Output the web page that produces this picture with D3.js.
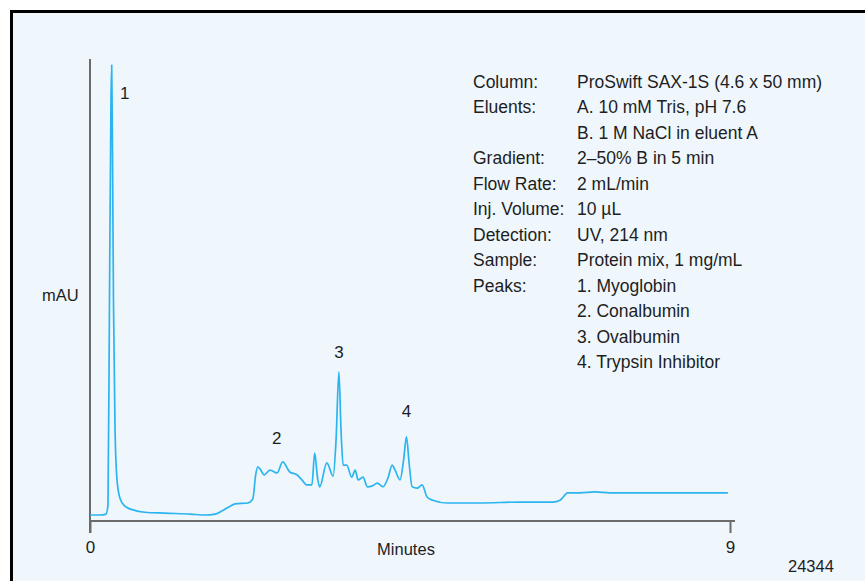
<!DOCTYPE html>
<html>
<head>
<meta charset="utf-8">
<script src="https://cdn.jsdelivr.net/npm/d3@7"></script>
<style>
  html, body { margin: 0; padding: 0; background: #ffffff; }
  svg { display: block; }
  text { font-family: "Liberation Sans", Arial, Helvetica, sans-serif; fill: #1e1e1e; }
</style>
</head>
<body>
<svg id="chart" width="865" height="581"></svg>
<script>
// ---- data ----
const times = [0, 0.14, 0.225, 0.253, 0.274, 0.295, 0.305, 0.316, 0.330, 0.352, 0.380, 0.42, 0.49, 0.605, 0.77, 1.05, 1.41, 1.62, 1.76, 1.86, 1.97, 2.04, 2.22, 2.29, 2.33, 2.36, 2.39, 2.45, 2.53, 2.63, 2.71, 2.81, 2.91, 2.98, 3.05, 3.12, 3.16, 3.20, 3.23, 3.33, 3.42, 3.46, 3.50, 3.53, 3.56, 3.61, 3.68, 3.73, 3.77, 3.84, 3.90, 3.97, 4.04, 4.12, 4.19, 4.25, 4.29, 4.36, 4.41, 4.45, 4.49, 4.53, 4.60, 4.67, 4.74, 4.82, 5.02, 5.48, 6.05, 6.51, 6.61, 6.72, 6.89, 7.10, 7.31, 7.88, 8.30, 8.97];
const signal = [1.3, 1.3, 1.5, 3.5, 47.8, 91, 98.7, 80.3, 47.8, 19.7, 8.9, 5.0, 3.2, 2.4, 1.9, 1.7, 1.5, 1.3, 1.5, 2.2, 3.2, 3.7, 3.9, 4.8, 10.0, 11.7, 11.3, 10.0, 11.0, 10.4, 12.8, 10.6, 10.0, 8.9, 7.8, 7.8, 14.7, 9.3, 7.4, 12.6, 9.7, 17.5, 32.3, 19.7, 12.1, 12.1, 9.5, 11.0, 8.9, 9.5, 7.4, 7.6, 8.2, 7.4, 9.3, 12.1, 11.0, 8.9, 13.2, 18.2, 12.1, 7.4, 7.1, 7.8, 5.2, 4.5, 3.9, 3.9, 4.1, 4.1, 4.5, 6.1, 6.1, 6.3, 6.1, 6.1, 6.1, 6.1];
const peakNames = ["1", "2", "3", "4"];
const peakTimes = [0.305, 2.71, 3.50, 4.45];
const xTicks = [0, 9];
const xTitle = "Minutes";
const yTitle = "mAU";
const figureId = "24344";
const infoKeys = ["Column:", "Eluents:", "", "Gradient:", "Flow Rate:", "Inj. Volume:", "Detection:", "Sample:", "Peaks:", "", "", ""];
const infoValues = ["ProSwift SAX-1S (4.6 x 50 mm)", "A. 10 mM Tris, pH 7.6", "B. 1 M NaCl in eluent A", "2\u201350% B in 5 min", "2 mL/min", "10 \u00b5L", "UV, 214 nm", "Protein mix, 1 mg/mL", "1. Myoglobin", "2. Conalbumin", "3. Ovalbumin", "4. Trypsin Inhibitor"];

// ---- layout ----
const svg = d3.select("#chart");
const pLeft = 90, pRight = 730, pTop = 59, pBottom = 521;

// frame
svg.append("rect")
  .attr("x", 11.5).attr("y", 11.5)
  .attr("width", 900).attr("height", 620)
  .attr("fill", "#eff7fd")
  .attr("stroke", "#000").attr("stroke-width", 3);

const x = d3.scaleLinear().domain([0, 9]).range([pLeft, pRight]);
const y = d3.scaleLinear().domain([0, 100]).range([pBottom, pTop]);

const axisColor = "#6b6b6b";

// y axis line (continues down as the 0 tick)
svg.append("line")
  .attr("x1", pLeft).attr("x2", pLeft)
  .attr("y1", pTop).attr("y2", pBottom + 12)
  .attr("stroke", axisColor).attr("stroke-width", 2);

// x axis
const xAxis = d3.axisBottom(x).tickValues(xTicks).tickSize(12).tickPadding(8).tickFormat(d3.format("d"));
const gx = svg.append("g").attr("transform", `translate(0,${pBottom})`).call(xAxis);
gx.select(".domain").attr("d", `M${pLeft},0H${pRight + 5}`).attr("stroke", axisColor).attr("stroke-width", 2);
gx.selectAll(".tick line").attr("stroke", axisColor).attr("stroke-width", 2);
gx.selectAll(".tick text")
  .attr("font-family", "Liberation Sans, Arial, sans-serif")
  .attr("font-size", 17).attr("fill", "#1e1e1e");

// axis titles
svg.append("text").attr("x", x(4.5) - 4).attr("y", 555)
  .attr("text-anchor", "middle").attr("font-size", 16.5).text(xTitle);
svg.append("text").attr("x", 42).attr("y", 301)
  .attr("font-size", 16.5).text(yTitle);
svg.append("text").attr("x", 788).attr("y", 572)
  .attr("font-size", 16.5).text(figureId);

// trace
const pts = times.map((t, i) => [t, signal[i]]);
const line = d3.line().x(d => x(d[0])).y(d => y(d[1])).curve(d3.curveMonotoneX);
svg.append("path")
  .attr("d", line(pts))
  .attr("fill", "none")
  .attr("stroke", "#2bb4ef")
  .attr("stroke-width", 1.7)
  .attr("stroke-linejoin", "round");

// peak labels
const labelOffsets = [[13, -34], [-6, 18], [0, 14], [0, 20]];
peakNames.forEach((name, i) => {
  const idx = d3.minIndex(times, t => Math.abs(t - peakTimes[i]));
  svg.append("text")
    .attr("x", x(peakTimes[i]) + labelOffsets[i][0])
    .attr("y", y(signal[idx]) - labelOffsets[i][1])
    .attr("text-anchor", "middle")
    .attr("font-size", 17)
    .text(name);
});

// info block
const info = svg.append("g").attr("font-size", 17.5);
infoKeys.forEach((k, i) => {
  const by = 88 + i * 25.45;
  if (k) info.append("text").attr("x", 473).attr("y", by).text(k);
  info.append("text").attr("x", 577).attr("y", by).text(infoValues[i]);
});
</script>
</body>
</html>
